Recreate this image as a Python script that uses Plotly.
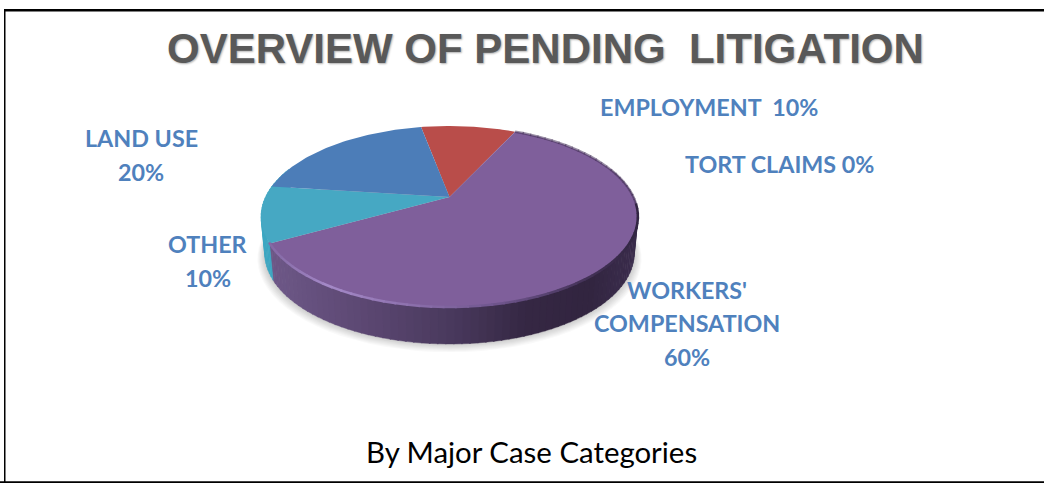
import math
import plotly.graph_objects as go

# ---- data ----
categories = ["EMPLOYMENT", "TORT CLAIMS", "WORKERS' COMPENSATION", "OTHER", "LAND USE"]
shares = [10, 0, 60, 10, 20]
label_lines = [
    ["EMPLOYMENT\u00a0\u00a010%"],
    ["TORT CLAIMS 0%"],
    ["WORKERS'", "COMPENSATION", "60%"],
    ["OTHER", "10%"],
    ["LAND USE", "20%"],
]
title_text = "OVERVIEW OF PENDING\u00a0\u00a0LITIGATION"
subtitle_text = "By Major Case Categories"

# ---- style ----
W, H = 1044, 483
CX, CY = 449.5, 197           # pie apex in the page
A, B, K = 184.0, 86.3, 0.2155  # perspective disc
DEPTH, BOTTOM_SCALE = 37.0, 0.98
START = -10.8
top_colors = ["#b94d4a", "#9bbb59", "#7f5f9b", "#46a8c3", "#4c7db8"]
label_color = "#4f81bd"
label_pos = [(709, 107), (779, 164), (687, 323), (208, 261), (141, 155)]
LINE_PITCH = 33.5


def project(deg):
    t = math.radians(deg)
    u, v = math.sin(t), math.cos(t)
    w = 1 + K * v
    return A * u / w, B * v / w


def arc(a0, a1, step=1.0):
    n = max(1, int(abs(a1 - a0) / step))
    return [project(a0 + (a1 - a0) * i / n) for i in range(n + 1)]


def mix(stops, f):
    f = max(0.0, min(1.0, f))
    for (f0, c0), (f1, c1) in zip(stops, stops[1:]):
        if f <= f1:
            s = (f - f0) / (f1 - f0)
            return "rgb(%d,%d,%d)" % tuple(c0[i] + (c1[i] - c0[i]) * s for i in range(3))
    return "rgb(%d,%d,%d)" % stops[-1][1]


rim_stops = [(0.0, (112, 90, 138)), (0.3, (90, 70, 112)), (0.5, (74, 58, 94)),
             (0.7, (54, 40, 68)), (0.87, (50, 37, 64)), (1.0, (60, 46, 78))]
bevel_stops = [(0.0, (128, 100, 160)), (0.18, (165, 138, 200)), (0.4, (140, 112, 172)),
               (0.62, (112, 86, 142)), (0.85, (70, 52, 90)), (1.0, (50, 38, 66))]

fig = go.Figure()

# soft shadow under the pie
ring = arc(0, 360, 4)
for i in range(8):
    s = 1.0 + 0.005 * i
    fig.add_trace(go.Scatter(
        x=[p[0] * s * 0.985 for p in ring],
        y=[(p[1] + 20) * s - 20 - DEPTH - 1 - i * 0.6 for p in ring],
        mode="lines", line=dict(width=0), fill="toself",
        fillcolor="rgba(0,0,0,0.025)", hoverinfo="skip"))

# angular extents of each slice
edges = [START]
for v in shares:
    edges.append(edges[-1] + v / sum(shares) * 360)

# rim, only the side of the slices facing the viewer
for i, v in enumerate(shares):
    if v == 0:
        continue
    a0, a1 = max(edges[i], 70), min(edges[i + 1], 290)
    if a1 <= a0:
        continue
    n = max(1, int((a1 - a0) / 2))
    for j in range(n):
        t0 = a0 + (a1 - a0) * j / n
        t1 = a0 + (a1 - a0) * (j + 1) / n + 0.3
        seg = arc(t0, t1, 0.5)
        xs = [p[0] for p in seg] + [p[0] * BOTTOM_SCALE for p in reversed(seg)]
        ys = [p[1] for p in seg] + [p[1] - DEPTH for p in reversed(seg)]
        mx = (seg[0][0] + seg[-1][0]) / 2
        color = mix(rim_stops, (mx / 188.5 + 1) / 2) if i == 2 else "#3da7c2"
        fig.add_trace(go.Scatter(x=xs + xs[:1], y=ys + ys[:1], mode="lines",
                                 line=dict(width=0.4, color=color), fill="toself",
                                 fillcolor=color, hoverinfo="skip"))

# top faces
for i, v in enumerate(shares):
    if v == 0:
        continue
    seg = arc(edges[i], edges[i + 1])
    xs = [0] + [p[0] for p in seg] + [0]
    ys = [0] + [p[1] for p in seg] + [0]
    fig.add_trace(go.Scatter(x=xs, y=ys, mode="lines", line=dict(width=0),
                             fill="toself", fillcolor=top_colors[i], hoverinfo="skip"))

# bevel along the purple slice
a0, a1 = edges[2], edges[3]
n = int((a1 - a0) / 3)
for j in range(n):
    t0 = a0 + (a1 - a0) * j / n
    t1 = a0 + (a1 - a0) * (j + 1) / n + 0.5
    seg = arc(t0, t1, 1)
    mx = (seg[0][0] + seg[-1][0]) / 2
    if (t0 + t1) / 2 < 95:
        color = "rgba(70,50,90,0.55)"
    else:
        color = mix(bevel_stops, (mx / 188.5 + 1) / 2)
    fig.add_trace(go.Scatter(x=[p[0] for p in seg], y=[p[1] for p in seg], mode="lines",
                             line=dict(width=2.5, color=color), hoverinfo="skip"))

# frame
frame = [
    dict(type="rect", xref="paper", yref="paper", x0=4 / W, x1=5.5 / W, y0=0, y1=1 - 9 / H),
    dict(type="rect", xref="paper", yref="paper", x0=4 / W, x1=1, y0=1 - 11.5 / H, y1=1 - 9 / H),
    dict(type="rect", xref="paper", yref="paper", x0=0, x1=1, y0=0, y1=1.8 / H),
]
for s in frame:
    s.update(fillcolor="#000000", line=dict(width=0), layer="above")

# labels, one annotation per text line
notes = []
for lines, (lx, ly) in zip(label_lines, label_pos):
    for k, line in enumerate(lines):
        notes.append(dict(x=lx / W, y=1 - (ly + (k - (len(lines) - 1) / 2) * LINE_PITCH) / H,
                          xref="paper", yref="paper", text="<b>%s</b>" % line, showarrow=False,
                          xanchor="center", yanchor="middle",
                          font=dict(family="Lato", size=23.3, color=label_color)))
notes.append(dict(x=545 / W, y=1 - 48.5 / H, xref="paper", yref="paper",
                  text="<b>%s</b>" % title_text, showarrow=False,
                  xanchor="center", yanchor="middle",
                  font=dict(family="Liberation Sans", size=42, color="#595959",
                            shadow="1px 1px 2px #b0b0b0")))
notes.append(dict(x=531 / W, y=1 - 451.5 / H, xref="paper", yref="paper",
                  text=subtitle_text, showarrow=False, xanchor="center", yanchor="middle",
                  font=dict(family="Lato", size=29.4, color="#000000")))

fig.update_layout(
    width=W, height=H, autosize=False, margin=dict(l=0, r=0, t=0, b=0),
    paper_bgcolor="#ffffff", plot_bgcolor="#ffffff", showlegend=False,
    xaxis=dict(visible=False, range=[-CX, W - CX], fixedrange=True),
    yaxis=dict(visible=False, range=[CY - H, CY], fixedrange=True),
    shapes=frame, annotations=notes,
)

fig.write_html("out.html", config={"displayModeBar": False},
               post_script="document.body.style.margin='0';")
